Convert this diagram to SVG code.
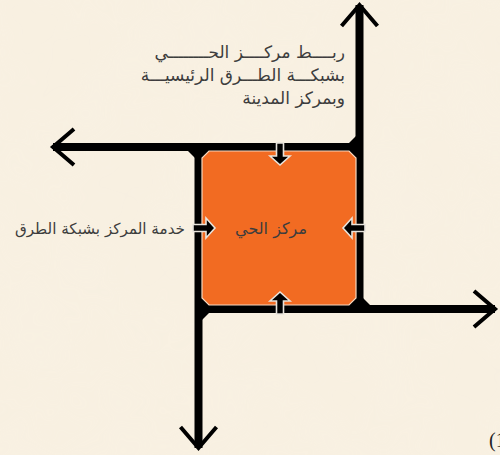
<svg xmlns="http://www.w3.org/2000/svg" width="500" height="455" viewBox="0 0 500 455">
<defs>
<filter id="paper" x="0" y="0" width="100%" height="100%">
<feTurbulence type="fractalNoise" baseFrequency="0.012" numOctaves="3" seed="4" result="n"/>
<feColorMatrix in="n" type="matrix" values="0 0 0 0 0.95  0 0 0 0 0.90  0 0 0 0 0.82  0 0 0 0.9 -0.25"/>
</filter>
<marker id="openV" markerUnits="userSpaceOnUse" markerWidth="60" markerHeight="60" viewBox="-30 -30 60 60" refX="0" refY="0" orient="auto" overflow="visible">
<path d="M-21,-18 L0,0 L-21,18" fill="none" stroke="#000" stroke-width="4" stroke-linejoin="miter"/>
</marker>
<path id="blk" d="M-3.5,-22 L3.5,-22 L3.5,-9 L10,-9 L0,0 L-10,-9 L-3.5,-9 Z"/>
</defs>
<style>
.road{fill:none;stroke:#000;stroke-width:8;marker-end:url(#openV)}
.flare{fill:#000}
.inarrow{fill:#000;stroke:#e8e4dc;stroke-width:1.6;stroke-linejoin:miter}
.lbl{font-family:"DejaVu Sans","Noto Sans",sans-serif;fill:#3d3d3d;direction:rtl}
</style>
<rect width="500" height="455" fill="#f8f0e1"/>
<rect width="500" height="455" filter="url(#paper)" opacity="0.35"/>

<g id="connectors">
<path class="road" d="M198.5,143 L198.5,448"/>
<path class="road" d="M363,147 L53,147"/>
<path class="road" d="M359.5,313 L359.5,5"/>
<path class="road" d="M195,309 L495,309"/>
<polygon class="flare" points="195,151 188,151 195,158"/>
<polygon class="flare" points="356,143 349,143 356,136"/>
<polygon class="flare" points="363,305 370,305 363,298"/>
<polygon class="flare" points="202,313 209,313 202,320"/>
</g>

<g id="center">
<rect x="195" y="143" width="168" height="170" fill="#000"/>
<polygon points="209,151 349,151 356,158 356,298 349,305 209,305 202,298 202,158" fill="#f26b22" stroke="#f6d8bf" stroke-width="1.2"/>
<text class="lbl" x="307" y="234" font-size="16" text-anchor="start">مركز الحي</text>
</g>

<g id="arrows-in">
<use href="#blk" class="inarrow" transform="translate(280,165)"/>
<use href="#blk" class="inarrow" transform="translate(280,292) rotate(180)"/>
<use href="#blk" class="inarrow" transform="translate(215,228) rotate(-90)"/>
<use href="#blk" class="inarrow" transform="translate(343,228) rotate(90)"/>
</g>

<g id="label-link">
<text class="lbl" font-size="17" text-anchor="start">
<tspan x="345" y="58">ربــــط مركــــز الحــــــــي</tspan>
<tspan x="345" y="81">بشبكـــة الطـــرق الرئيسيـــة</tspan>
<tspan x="345" y="104">وبمركز المدينة</tspan>
</text>
</g>

<g id="label-service">
<text class="lbl" x="185" y="234" font-size="15.2" text-anchor="start">خدمة المركز بشبكة الطرق</text>
</g>

<g id="fig-number">
<text x="489" y="447" font-family="Liberation Serif, serif" font-size="20" fill="#222">(1)</text>
</g>
</svg>
